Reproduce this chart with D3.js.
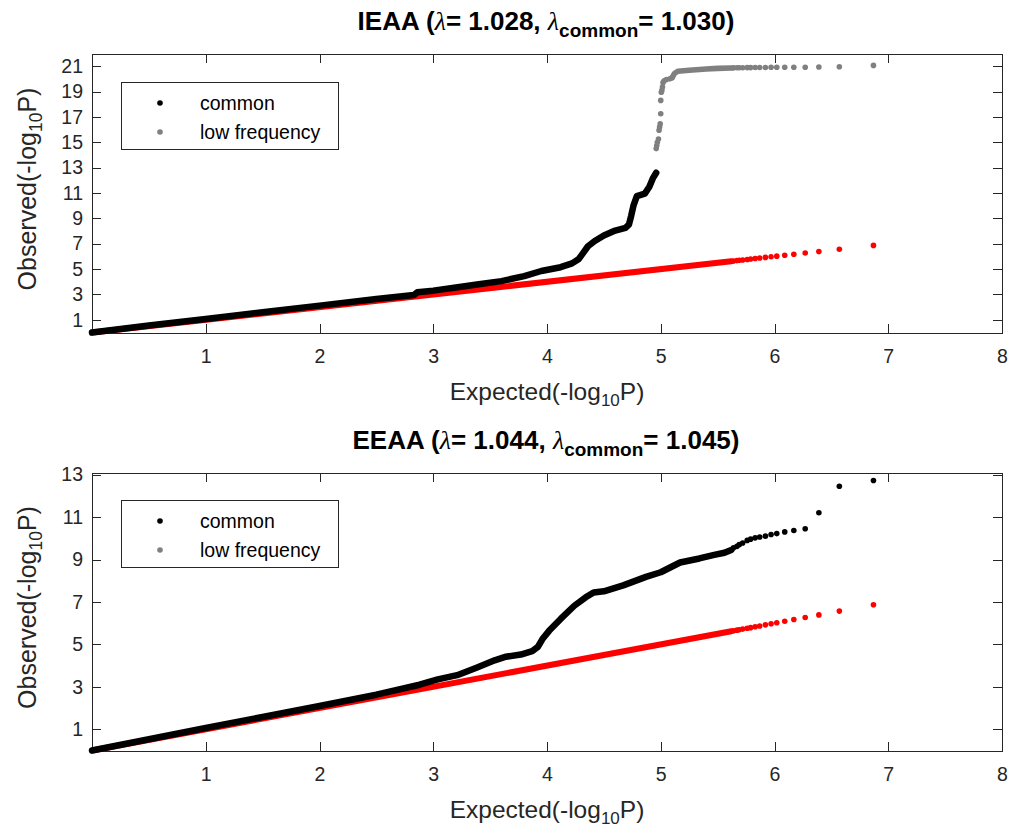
<!DOCTYPE html>
<html>
<head>
<meta charset="utf-8">
<script src="https://cdn.jsdelivr.net/npm/d3@7"></script>
<style>
  html, body { margin: 0; padding: 0; background: #fff; }
  svg { display: block; font-family: "Liberation Sans", Arial, sans-serif; }
</style>
</head>
<body>
<svg id="chart" width="1010" height="830"></svg>
<script>
// Expected -log10(P) of the most extreme ranks, where single points separate
const expectedTail = [6.87, 6.57, 6.39, 6.27, 6.17, 6.09, 6.02, 5.97, 5.92, 5.87, 5.83, 5.79, 5.76, 5.72, 5.69, 5.67, 5.64];
// Dense stretch of the expected (null) diagonal: start and end
const expectedBand = [0, 5.62];

const xTicks = [1, 2, 3, 4, 5, 6, 7, 8];
const ieaaYTicks = [1, 3, 5, 7, 9, 11, 13, 15, 17, 19, 21];
const eeaaYTicks = [1, 3, 5, 7, 9, 11, 13];

// IEAA, common variants: [expected, observed]
const ieaaCommon = [
  [0, 0], [0.5, 0.55], [1, 1.07], [1.5, 1.6], [2, 2.12], [2.5, 2.64], [2.83, 2.95],
  [2.86, 3.17], [3.0, 3.3], [3.2, 3.55], [3.4, 3.8], [3.6, 4.05], [3.8, 4.45],
  [3.95, 4.85], [4.12, 5.15], [4.22, 5.45], [4.28, 5.8], [4.32, 6.3], [4.36, 6.8],
  [4.42, 7.22], [4.5, 7.65], [4.6, 8.04], [4.69, 8.25], [4.72, 8.5], [4.74, 9.2],
  [4.76, 10.0], [4.79, 10.75], [4.86, 10.95], [4.9, 11.5], [4.93, 12.15], [4.96, 12.6]
];
// IEAA, low-frequency variants: steep rise (single points)
const ieaaLowRise = [
  [4.96, 14.5], [4.965, 14.75], [4.97, 15.0], [4.98, 15.25], [4.985, 15.95],
  [4.99, 16.2], [4.995, 16.45], [5.0, 17.25], [5.0, 18.3], [5.005, 18.95],
  [5.01, 19.1], [5.015, 19.35], [5.02, 19.7], [5.03, 19.85], [5.05, 19.95],
  [5.08, 20.0], [5.1, 20.1]
];
// IEAA, low-frequency variants: dense plateau
const ieaaLowBand = [
  [5.1, 20.1], [5.12, 20.42], [5.15, 20.6], [5.25, 20.68], [5.4, 20.78],
  [5.5, 20.83], [5.62, 20.86]
];
// IEAA, low-frequency observed values at expectedTail
const ieaaLowTail = [21.06, 20.95, 20.93, 20.92, 20.92, 20.92, 20.91, 20.91, 20.9, 20.9, 20.9, 20.89, 20.89, 20.88, 20.88, 20.88, 20.87];

// EEAA, common variants: dense part [expected, observed]
const eeaaCommon = [
  [0, 0], [0.5, 0.53], [1, 1.06], [1.5, 1.58], [2, 2.1], [2.5, 2.63], [2.88, 3.1],
  [3.04, 3.35], [3.21, 3.55], [3.38, 3.9], [3.54, 4.25], [3.64, 4.42], [3.77, 4.52],
  [3.87, 4.68], [3.92, 4.88], [3.96, 5.25], [4.02, 5.65], [4.12, 6.2], [4.24, 6.82],
  [4.34, 7.22], [4.41, 7.45], [4.5, 7.5], [4.67, 7.78], [4.87, 8.18], [5.0, 8.4],
  [5.17, 8.86], [5.34, 9.05], [5.47, 9.22], [5.56, 9.32], [5.62, 9.45]
];
// EEAA, common observed values at expectedTail
const eeaaCommonTail = [12.72, 12.45, 11.2, 10.45, 10.37, 10.3, 10.22, 10.18, 10.1, 10.06, 10.02, 9.96, 9.9, 9.78, 9.7, 9.62, 9.55];

const legendLabels = ["common", "low frequency"];

const COL = { common: "#000000", low: "#808080", expected: "#ff0000", axis: "#262626" };
const svg = d3.select("#chart");

function drawPanel(cfg) {
  const x = d3.scaleLinear().domain([0, 8]).range([92, 1002]);
  const y = d3.scaleLinear().domain(cfg.yDomain).range([cfg.bottom, cfg.top]);
  const g = svg.append("g");

  // axes box with inward ticks on all four sides
  const ax = g.append("g").attr("class", "axes");
  ax.append("g").attr("transform", `translate(0,${cfg.bottom})`)
    .call(d3.axisBottom(x).tickValues(xTicks).tickSizeInner(-9).tickSizeOuter(0).tickPadding(17));
  ax.append("g").attr("transform", `translate(0,${cfg.top})`)
    .call(d3.axisTop(x).tickValues(xTicks).tickSizeInner(-9).tickSizeOuter(0).tickFormat(""));
  ax.append("g").attr("transform", `translate(92,0)`)
    .call(d3.axisLeft(y).tickValues(cfg.yTicks).tickSizeInner(-9).tickSizeOuter(0).tickPadding(9));
  ax.append("g").attr("transform", `translate(1002,0)`)
    .call(d3.axisRight(y).tickValues(cfg.yTicks).tickSizeInner(-9).tickSizeOuter(0).tickFormat(""));
  ax.selectAll("path.domain, line").attr("stroke", COL.axis).attr("stroke-width", 1).attr("shape-rendering", "crispEdges");
  ax.selectAll("text").attr("fill", COL.axis).attr("font-size", 19.5)
    .attr("font-family", '"Liberation Sans", Arial, sans-serif');

  const line = d3.line().x(d => x(d[0])).y(d => y(d[1]));
  const marks = g.append("g");

  // expected diagonal (red): dense band + separated points
  marks.append("path")
    .attr("d", line(expectedBand.map(v => [v, v])))
    .attr("fill", "none").attr("stroke", COL.expected).attr("stroke-width", 6)
    .attr("stroke-linecap", "round");
  marks.selectAll("circle.exp").data(expectedTail).join("circle")
    .attr("class", "exp").attr("cx", d => x(d)).attr("cy", d => y(d)).attr("r", 2.8)
    .attr("fill", COL.expected);

  // low-frequency variants (grey)
  if (cfg.lowRise) {
    marks.append("path").attr("d", line(cfg.lowBand))
      .attr("fill", "none").attr("stroke", COL.low).attr("stroke-width", 5.6)
      .attr("stroke-linecap", "round").attr("stroke-linejoin", "round");
    marks.selectAll("circle.lowr").data(cfg.lowRise).join("circle")
      .attr("class", "lowr").attr("cx", d => x(d[0])).attr("cy", d => y(d[1])).attr("r", 2.8)
      .attr("fill", COL.low);
    marks.selectAll("circle.lowt").data(cfg.lowTail).join("circle")
      .attr("class", "lowt").attr("cx", (d, i) => x(expectedTail[i])).attr("cy", d => y(d)).attr("r", 2.8)
      .attr("fill", COL.low);
  }

  // common variants (black)
  marks.append("path").attr("d", line(cfg.common))
    .attr("fill", "none").attr("stroke", COL.common).attr("stroke-width", 6.5)
    .attr("stroke-linecap", "round").attr("stroke-linejoin", "round");
  if (cfg.commonTail) {
    marks.selectAll("circle.ct").data(cfg.commonTail).join("circle")
      .attr("class", "ct").attr("cx", (d, i) => x(expectedTail[i])).attr("cy", d => y(d)).attr("r", 2.8)
      .attr("fill", COL.common);
  }

  // title
  const t = g.append("text").attr("x", 546).attr("y", cfg.top - 23.5)
    .attr("text-anchor", "middle").attr("font-size", 26).attr("font-weight", "bold").attr("fill", "#000");
  t.append("tspan").text(cfg.name + " (");
  t.append("tspan").attr("font-family", '"Liberation Serif", serif').attr("font-style", "italic")
    .attr("font-weight", "normal").text("\u03bb");
  t.append("tspan").text("= " + cfg.lambda + ", ");
  t.append("tspan").attr("font-family", '"Liberation Serif", serif').attr("font-style", "italic")
    .attr("font-weight", "normal").text("\u03bb");
  t.append("tspan").attr("font-size", 19).attr("dy", 7).text("common");
  t.append("tspan").attr("dy", -7).text("= " + cfg.lambdaCommon + ")");

  // axis labels
  const xl = g.append("text").attr("x", 547).attr("y", cfg.bottom + 67)
    .attr("text-anchor", "middle").attr("font-size", 24.5).attr("fill", COL.axis);
  xl.append("tspan").text("Expected(-log");
  xl.append("tspan").attr("font-size", 17).attr("dy", 6).text("10");
  xl.append("tspan").attr("dy", -6).text("P)");

  const ymid = (cfg.top + cfg.bottom) / 2;
  const yl = g.append("text").attr("transform", `translate(36,${ymid - 4}) rotate(-90)`)
    .attr("text-anchor", "middle").attr("font-size", 25).attr("fill", COL.axis);
  yl.append("tspan").text("Observed(-log");
  yl.append("tspan").attr("font-size", 17.5).attr("dy", 6).text("10");
  yl.append("tspan").attr("dy", -6).text("P)");

  // legend
  const lg = g.append("g").attr("transform", `translate(121.5,${cfg.legendTop})`);
  lg.append("rect").attr("width", 216.5).attr("height", 67).attr("fill", "#fff")
    .attr("stroke", COL.axis).attr("stroke-width", 1).attr("shape-rendering", "crispEdges");
  const legCols = [COL.common, COL.low];
  legendLabels.forEach((lab, i) => {
    const cy = 20.5 + i * 29;
    lg.append("circle").attr("cx", 38.5).attr("cy", cy).attr("r", 2.8).attr("fill", legCols[i]);
    lg.append("text").attr("x", 78.5).attr("y", cy + 7).attr("font-size", 19.5).attr("fill", "#000").text(lab);
  });
}

drawPanel({
  name: "IEAA", lambda: "1.028", lambdaCommon: "1.030",
  top: 53.5, bottom: 332.5, yDomain: [0, 22], yTicks: ieaaYTicks, legendTop: 82.5,
  common: ieaaCommon, lowRise: ieaaLowRise, lowBand: ieaaLowBand, lowTail: ieaaLowTail
});
drawPanel({
  name: "EEAA", lambda: "1.044", lambdaCommon: "1.045",
  top: 472.5, bottom: 750.5, yDomain: [0, 13.1], yTicks: eeaaYTicks, legendTop: 500.5,
  common: eeaaCommon, commonTail: eeaaCommonTail
});
</script>
</body>
</html>
